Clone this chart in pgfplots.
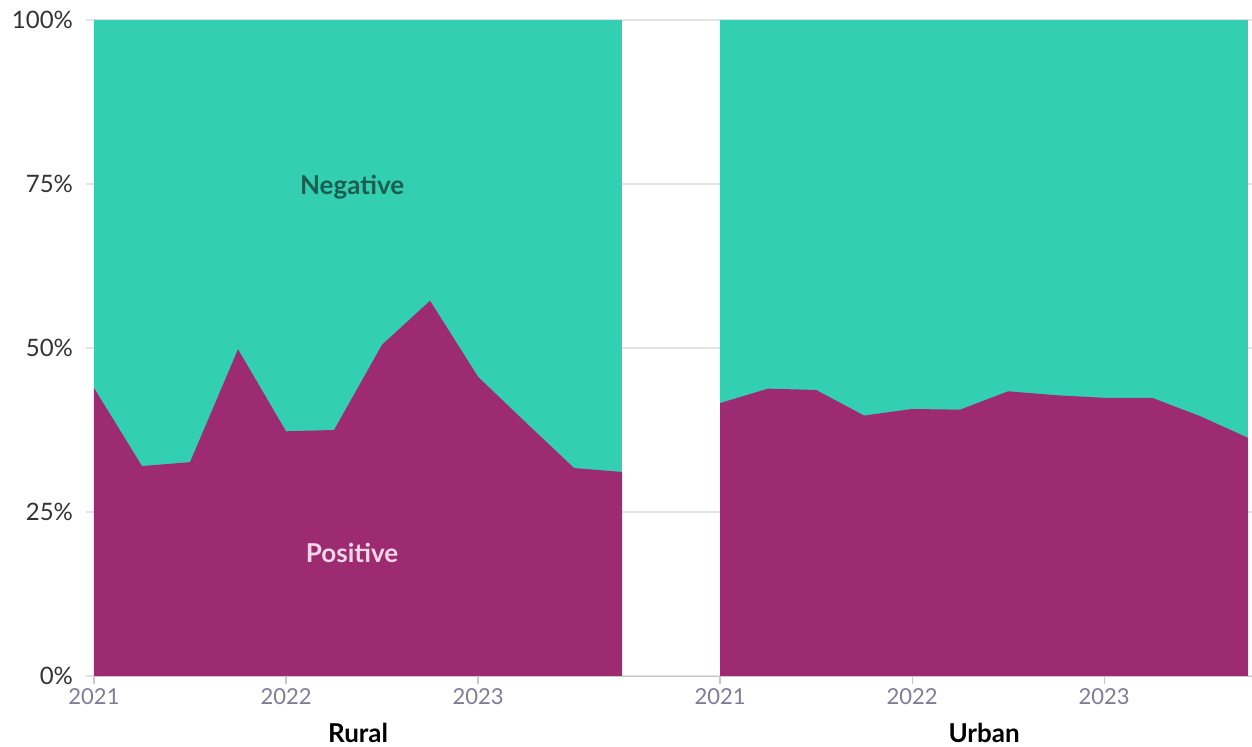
\documentclass[border=0pt]{standalone}
\usepackage{pgfplots}
\pgfplotsset{compat=1.18}
\usepackage{fontspec}
\setmainfont{Lato}

\definecolor{negteal}{HTML}{33CFB2}
\definecolor{pospurple}{HTML}{9C2B72}
\definecolor{gridgray}{HTML}{E3E3E3}
\definecolor{axgray}{HTML}{C8C8C8}
\definecolor{xlab}{HTML}{7E7C96}
\definecolor{ylab}{HTML}{333333}
\definecolor{negtext}{HTML}{1B5E50}
\definecolor{postext}{HTML}{F4D6E6}

% share of positive answers per quarter (percent)
\pgfplotstableread{
x pos
0.00 43.9
0.25 32.0
0.50 32.6
0.75 49.8
1.00 37.3
1.25 37.5
1.50 50.5
1.75 57.2
2.00 45.6
2.25 38.6
2.50 31.7
2.75 31.1
}\rural
\pgfplotstableread{
x pos
3.26 41.6
3.51 43.8
3.76 43.6
4.01 39.7
4.26 40.7
4.51 40.6
4.76 43.4
5.01 42.8
5.26 42.4
5.51 42.4
5.76 39.6
6.01 36.3
}\urban

\begin{document}
\begin{tikzpicture}
\useasboundingbox (-47pt,-35.5pt) rectangle (579pt,338pt);
\begin{axis}[
    at={(0,0)}, anchor=south west,
    scale only axis,
    width=579pt, height=328pt,
    xmin=0, xmax=6.03,
    ymin=0, ymax=100,
    axis lines=left,
    x axis line style={draw=axgray,-},
    y axis line style={draw=none},
    ymajorgrids=true,
    grid style={draw=gridgray, line width=0.6pt},
    ytick={0,25,50,75,100},
    yticklabels={0\%,25\%,50\%,75\%,100\%},
    xtick={0,1,2,3.26,4.26,5.26},
    xticklabels={2021,2022,2023,2021,2022,2023},
    tick align=outside,
    major tick length=4pt,
    y tick style={draw=gridgray, line width=0.6pt},
    x tick style={draw=axgray, line width=0.6pt},
    yticklabel style={font=\fontsize{12}{14}\selectfont, text=ylab, xshift=-3pt},
    xticklabel style={font=\fontsize{11}{13}\selectfont, text=xlab, yshift=1pt},
    clip=false,
    axis on top=false,
]
\addplot[fill=negteal, draw=none] coordinates {(0,100) (2.75,100)} \closedcycle;
\addplot[fill=pospurple, draw=none] table[x=x, y=pos] {\rural} \closedcycle;
\addplot[fill=negteal, draw=none] coordinates {(3.26,100) (6.01,100)} \closedcycle;
\addplot[fill=pospurple, draw=none] table[x=x, y=pos] {\urban} \closedcycle;

\node[font=\bfseries\fontsize{13}{15}\selectfont, text=negtext] at (axis cs:1.344,74.5) {Negative};
\node[font=\bfseries\fontsize{13}{15}\selectfont, text=postext] at (axis cs:1.344,18.7) {Positive};
\node[font=\bfseries\fontsize{13}{15}\selectfont, text=black] at (axis cs:1.375,0) [yshift=-28.5pt] {Rural};
\node[font=\bfseries\fontsize{13}{15}\selectfont, text=black] at (axis cs:4.635,0) [yshift=-28.5pt] {Urban};
\end{axis}
\end{tikzpicture}
\end{document}
